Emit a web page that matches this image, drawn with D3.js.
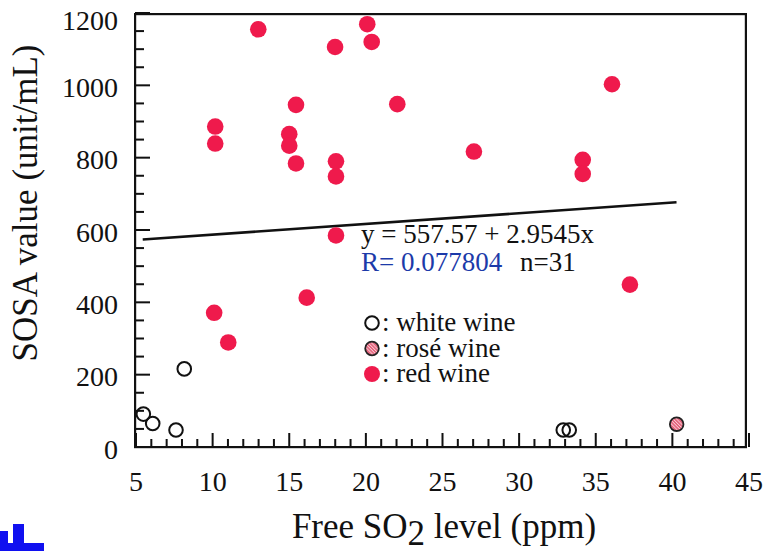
<!DOCTYPE html>
<html>
<head>
<meta charset="utf-8">
<script src="https://cdn.jsdelivr.net/npm/d3@7"></script>
</head>
<body style="margin:0">
<div id="chart"></div>
<script>
// data
var redX   = [12.98, 20.09, 20.38, 17.99, 15.44, 22.05, 10.17, 10.17, 15.0, 15.0, 15.44,
              18.05, 18.05, 18.05, 16.14, 10.1, 11.02, 36.06, 27.05, 34.15, 34.15, 37.23];
var redY   = [1155, 1169, 1120, 1106, 946, 948, 886, 839, 865, 833, 784,
              790, 748, 585, 413, 371, 289, 1003, 817, 794, 755, 449];
var whiteX = [5.48, 6.09, 7.61, 8.15, 32.88, 33.27];
var whiteY = [91, 65, 47, 216, 47, 47];
var roseX  = [40.28];
var roseY  = [63];

var fitIntercept = 557.57,
    fitSlope     = 2.9545,
    fitRange     = [5.44, 40.27];

var xTicks = [5, 10, 15, 20, 25, 30, 35, 40, 45];
var yTicks = [0, 200, 400, 600, 800, 1000, 1200];

var red = "#ef1a4c";
var serif = '"Liberation Serif", "Times New Roman", serif';

var svg = d3.select("#chart").append("svg").attr("width", 763).attr("height", 551)
var x = d3.scaleLinear().domain([5, 45]).range([136, 749]);
var y = d3.scaleLinear().domain([0, 1200]).range([447, 13]);
var minorX = d3.range(6, 45).filter(d => d % 5 != 0);
var minorY = d3.range(50, 1200, 50).filter(d => d % 200 != 0);

// ticks point into the plot
var ticks = svg.append("g").attr("fill", "#111")
ticks.selectAll("rect.xt")
    .data(xTicks.map(d => [d, 14]).concat(minorX.map(d => [d, 8])))
    .enter().append("rect")
    .attr("class", "xt")
    .attr("x", d => x(d[0]) - 1)
    .attr("y", d => y(0) - d[1])
    .attr("width", 2)
    .attr("height", d => d[1])

ticks.selectAll("rect.yt")
    .data(yTicks.map(d => [d, 15]).concat(minorY.map(d => [d, 9])))
    .enter().append("rect")
    .attr("class", "yt")
    .attr("x", 135)
    .attr("y", d => y(d[0]) - 1)
    .attr("width", d => d[1])
    .attr("height", 2)

// frame
ticks.append("rect").attr("x", 134).attr("y", 13).attr("width", 613).attr("height", 2.2)
ticks.append("rect").attr("x", 134).attr("y", 446).attr("width", 613).attr("height", 2.2)
ticks.append("rect").attr("x", 134).attr("y", 13).attr("width", 2.2).attr("height", 435)
ticks.append("rect").attr("x", 744.8).attr("y", 13).attr("width", 2.2).attr("height", 435)

// tick labels
svg.append("g")
    .selectAll("text")
    .data(xTicks)
    .enter().append("text")
    .attr("x", d => x(d))
    .attr("y", 491)
    .attr("text-anchor", "middle")
    .attr("fill", "#111")
    .style("font-family", serif)
    .style("font-size", "28px")
    .text(d => d)

svg.append("g")
    .selectAll("text")
    .data(yTicks)
    .enter().append("text")
    .attr("x", 118)
    .attr("y", d => y(d))
    .attr("dy", d => d == 1200 ? "0.62em" : "0.42em")
    .attr("text-anchor", "end")
    .attr("fill", "#111")
    .style("font-family", serif)
    .style("font-size", "28px")
    .text(d => d)

// axis titles
svg.append("text")
    .attr("transform", "translate(37, 203) rotate(-90)")
    .attr("text-anchor", "middle")
    .attr("fill", "#111")
    .style("font-family", serif)
    .style("font-size", "35px")
    .text("SOSA value (unit/mL)")

var xt = svg.append("text")
    .attr("x", 444)
    .attr("y", 538)
    .attr("text-anchor", "middle")
    .attr("fill", "#111")
    .style("font-family", serif)
    .style("font-size", "35px")
xt.append("tspan").text("Free SO")
xt.append("tspan").attr("dy", 7).text("2")
xt.append("tspan").attr("dy", -7).text(" level (ppm)")

// regression line
svg.append("line")
    .attr("x1", x(fitRange[0]))
    .attr("x2", x(fitRange[1]))
    .attr("y1", y(fitIntercept + fitSlope * fitRange[0]))
    .attr("y2", y(fitIntercept + fitSlope * fitRange[1]))
    .attr("stroke", "#111")
    .attr("stroke-width", 2.6)

// hatched rosé marker: pink disc, pale 45° chords, dark rim
function roseMark(g, r) {
    g.append("circle").attr("r", r).attr("fill", "#e5677f")
    ;[-3.6, -1.2, 1.2, 3.6].forEach(o => {
        var h = Math.sqrt(r * r - o * o)
        var c = Math.SQRT1_2
        g.append("line")
            .attr("x1", o * c - h * c).attr("y1", -o * c - h * c)
            .attr("x2", o * c + h * c).attr("y2", -o * c + h * c)
            .attr("stroke", "#fbd9e0")
            .attr("stroke-width", 1)
    })
    g.append("circle").attr("r", r).attr("fill", "none")
        .attr("stroke", "#222").attr("stroke-width", 1.8)
}

// points
svg.append("g").selectAll("circle")
    .data(redX.map((d, i) => [d, redY[i]]))
    .enter().append("circle")
    .attr("cx", d => x(d[0]))
    .attr("cy", d => y(d[1]))
    .attr("r", 8.3)
    .attr("fill", red)

svg.append("g").selectAll("circle")
    .data(whiteX.map((d, i) => [d, whiteY[i]]))
    .enter().append("circle")
    .attr("cx", d => x(d[0]))
    .attr("cy", d => y(d[1]))
    .attr("r", 6.8)
    .attr("fill", "none")
    .attr("stroke", "#111")
    .attr("stroke-width", 2)

svg.append("g").selectAll("g")
    .data(roseX.map((d, i) => [d, roseY[i]]))
    .enter().append("g")
    .attr("transform", d => `translate(${x(d[0])}, ${y(d[1])})`)
    .each(function() { roseMark(d3.select(this), 6.8) })

// equation
svg.append("text")
    .attr("x", 361)
    .attr("y", 243)
    .attr("fill", "#111")
    .style("font-family", serif)
    .style("font-size", "27px")
    .text("y = 557.57 + 2.9545x")

var rt = svg.append("text")
    .attr("x", 361)
    .attr("y", 271)
    .attr("fill", "#111")
    .style("font-family", serif)
    .style("font-size", "27px")
rt.append("tspan").attr("fill", "#1c3aa9").text("R= 0.077804")
rt.append("tspan").attr("x", 520).text("n=31")

// legend
var legend = ["white", "rose", "red"];
var legendLabels = [": white wine", ": rosé wine", ": red wine"];

var lg = svg.append("g").selectAll("g")
    .data(legend)
    .enter().append("g")
    .attr("transform", (d, i) => `translate(372, ${323 + i * 25.5})`)

lg.each(function(d) {
    var g = d3.select(this)
    if (d == "white") g.append("circle").attr("r", 6.8).attr("fill", "#fff").attr("stroke", "#111").attr("stroke-width", 2)
    if (d == "rose") roseMark(g, 6.8)
    if (d == "red") g.append("circle").attr("r", 8).attr("fill", red)
})

lg.append("text")
    .attr("x", 10)
    .attr("y", 8)
    .attr("fill", "#111")
    .style("font-family", serif)
    .style("font-size", "27px")
    .text((d, i) => legendLabels[i])

// blue scrap in the lower left corner of the scan
svg.append("path")
    .attr("d", "M0,531h8v20h-8z M13,524h11v19h20v8h-37v-8h6z")
    .attr("fill", "#1010f0")
</script>
</body>
</html>
